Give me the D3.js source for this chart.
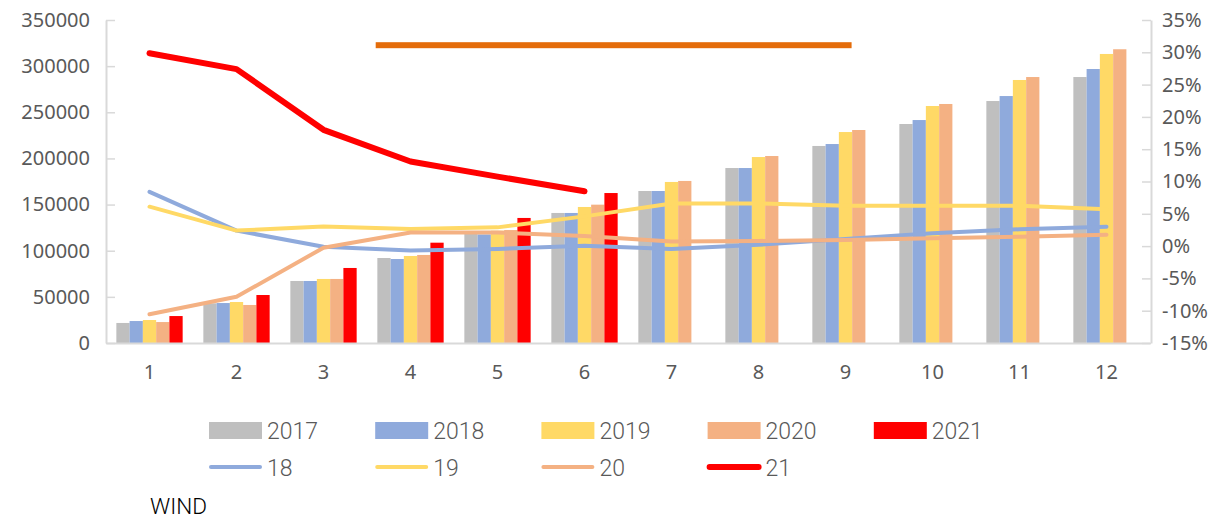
<!DOCTYPE html>
<html>
<head>
<meta charset="utf-8">
<script src="https://cdn.jsdelivr.net/npm/d3@7"></script>
<style>
  body { margin: 0; background: #fff; }
  svg { display: block; }
</style>
</head>
<body>
<script>
// 数据
var months = [1, 2, 3, 4, 5, 6, 7, 8, 9, 10, 11, 12];
var years = ['2017', '2018', '2019', '2020', '2021'];
var v2017 = [21700, 43000, 67200, 92100, 118100, 140900, 164700, 189600, 213500, 237300, 262200, 288200];
var v2018 = [23800, 43300, 67200, 91000, 117700, 140900, 164700, 189600, 215600, 241600, 267600, 296900];
var v2019 = [24900, 44400, 69400, 94300, 121700, 147400, 174500, 201500, 228600, 256800, 285000, 313200];
var v2020 = [22700, 41200, 69400, 95400, 122400, 149900, 175600, 202600, 230800, 259000, 288200, 318300];
var v2021 = [29200, 52000, 81300, 108700, 135500, 162500, null, null, null, null, null, null];
// 增速 (%)
var g18 = [8.4, 2.4, -0.1, -0.7, -0.45, 0.05, -0.45, 0.2, 1.1, 2.0, 2.6, 3.0];
var g19 = [6.1, 2.4, 3.05, 2.65, 2.9, 4.6, 6.6, 6.6, 6.25, 6.25, 6.25, 5.7];
var g20 = [-10.55, -7.85, -0.25, 2.1, 2.1, 1.55, 0.7, 0.8, 0.95, 1.2, 1.45, 1.75];
var g21 = [29.85, 27.4, 18.0, 13.1, 10.75, 8.5];
var leftTicks = [0, 50000, 100000, 150000, 200000, 250000, 300000, 350000];
var rightTicks = [-15, -10, -5, 0, 5, 10, 15, 20, 25, 30, 35];
// 橙色横条 (月份位置, 百分比)
var bannerMonths = [3.6, 9.07];
var bannerLevel = 31.1;

var width = 1222;
var height = 519;
var svg = d3.select('body').append('svg').attr('width', width).attr('height', height);

var plot = { left: 106, right: 1151, top: 20, bottom: 343 };
var axisColor = '#D9D9D9';
var textColor = '#595959';
var font = '"Noto Sans", "Open Sans", sans-serif';

var barColors = { '2017': '#BFBFBF', '2018': '#8FAADC', '2019': '#FFD966', '2020': '#F4B183', '2021': '#FF0000' };
var barData = { '2017': v2017, '2018': v2018, '2019': v2019, '2020': v2020, '2021': v2021 };

var x0 = d3.scaleBand().domain(months).range([plot.left, plot.right - 1]).padding(0);
var x1 = d3.scaleBand().domain(years).range([0, x0.bandwidth()]).paddingInner(0).paddingOuter(0.78);
var xm = d3.scaleLinear().domain([1, 12]).range([x0(1) + x0.bandwidth() / 2, x0(12) + x0.bandwidth() / 2]);
var yL = d3.scaleLinear().domain([0, 350000]).range([plot.bottom, plot.top]);
var yR = d3.scaleLinear().domain([-15, 35]).range([plot.bottom, plot.top]);

// 柱子
years.forEach(function (yr) {
    svg.append('g').selectAll('rect')
        .data(months.map(function (m, i) { return { m: m, v: barData[yr][i] }; }).filter(function (d) { return d.v != null; }))
        .enter()
        .append('rect')
        .attr('x', function (d) { return x0(d.m) + x1(yr); })
        .attr('y', function (d) { return yL(d.v); })
        .attr('width', x1.bandwidth())
        .attr('height', function (d) { return yL(0) - yL(d.v); })
        .attr('fill', barColors[yr]);
});

// 坐标轴
var leftAxis = d3.axisLeft(yL).tickValues(leftTicks).tickFormat(d3.format('d'))
    .tickSizeInner(-9).tickSizeOuter(0).tickPadding(16);
var gL = svg.append('g').attr('transform', 'translate(' + plot.left + ',0)').call(leftAxis);
var rightAxis = d3.axisRight(yR).tickValues(rightTicks).tickSizeInner(-9).tickSizeOuter(0)
    .tickPadding(11).tickFormat(function (d) { return d + '%'; });
var gR = svg.append('g').attr('transform', 'translate(' + plot.right + ',0)').call(rightAxis);
var bottomAxis = d3.axisBottom(x0).tickSize(0).tickPadding(22);
var gB = svg.append('g').attr('transform', 'translate(0,' + plot.bottom + ')').call(bottomAxis);

[gL, gR, gB].forEach(function (g) {
    g.select('.domain').attr('stroke', axisColor).attr('stroke-width', 2);
    g.selectAll('.tick line').attr('stroke', axisColor).attr('stroke-width', 1.5);
    g.selectAll('text').attr('fill', textColor).style('font-family', font).style('font-size', '20px');
});

// 折线
var lineSeries = [
    { name: '18', values: g18, color: '#8FAADC', w: 4 },
    { name: '19', values: g19, color: '#FFD966', w: 4 },
    { name: '20', values: g20, color: '#F4B183', w: 4 },
    { name: '21', values: g21, color: '#FF0000', w: 6 }
];
var line = d3.line()
    .x(function (d, i) { return x0(months[i]) + x0.bandwidth() / 2; })
    .y(function (d) { return yR(d); });
lineSeries.forEach(function (s) {
    svg.append('path')
        .datum(s.values)
        .attr('d', line)
        .attr('fill', 'none')
        .attr('stroke', s.color)
        .attr('stroke-width', s.w)
        .attr('stroke-linejoin', 'round')
        .attr('stroke-linecap', 'round');
});

// 橙色横条
svg.append('rect')
    .attr('x', xm(bannerMonths[0]))
    .attr('y', yR(bannerLevel) - 3)
    .attr('width', xm(bannerMonths[1]) - xm(bannerMonths[0]))
    .attr('height', 6)
    .attr('fill', '#E46C0A');

// 图例
var legendFont = 'Roboto, "Open Sans", sans-serif';
var legend1 = svg.append('g');
years.forEach(function (yr, i) {
    var g = legend1.append('g').attr('transform', 'translate(' + (209 + i * 166.2) + ',422)');
    g.append('rect').attr('width', 53).attr('height', 17).attr('fill', barColors[yr]);
    g.append('text').attr('x', 58).attr('y', 17).text(yr)
        .attr('fill', textColor).style('font-family', legendFont).style('font-weight', 300).style('font-size', '23px');
});
var legend2 = svg.append('g');
lineSeries.forEach(function (s, i) {
    var g = legend2.append('g').attr('transform', 'translate(' + (209 + i * 166.2) + ',467)');
    g.append('line').attr('x1', 2).attr('x2', 51).attr('y1', 0).attr('y2', 0)
        .attr('stroke', s.color).attr('stroke-width', s.w).attr('stroke-linecap', 'round');
    g.append('text').attr('x', 58).attr('y', 9).text(s.name)
        .attr('fill', textColor).style('font-family', legendFont).style('font-weight', 300).style('font-size', '23px');
});

svg.append('text').attr('x', 150).attr('y', 514).text('WIND')
    .attr('fill', '#000').style('font-family', legendFont).style('font-weight', 300).style('font-size', '22px')
    .attr('textLength', 57).attr('lengthAdjust', 'spacingAndGlyphs');
</script>
</body>
</html>
